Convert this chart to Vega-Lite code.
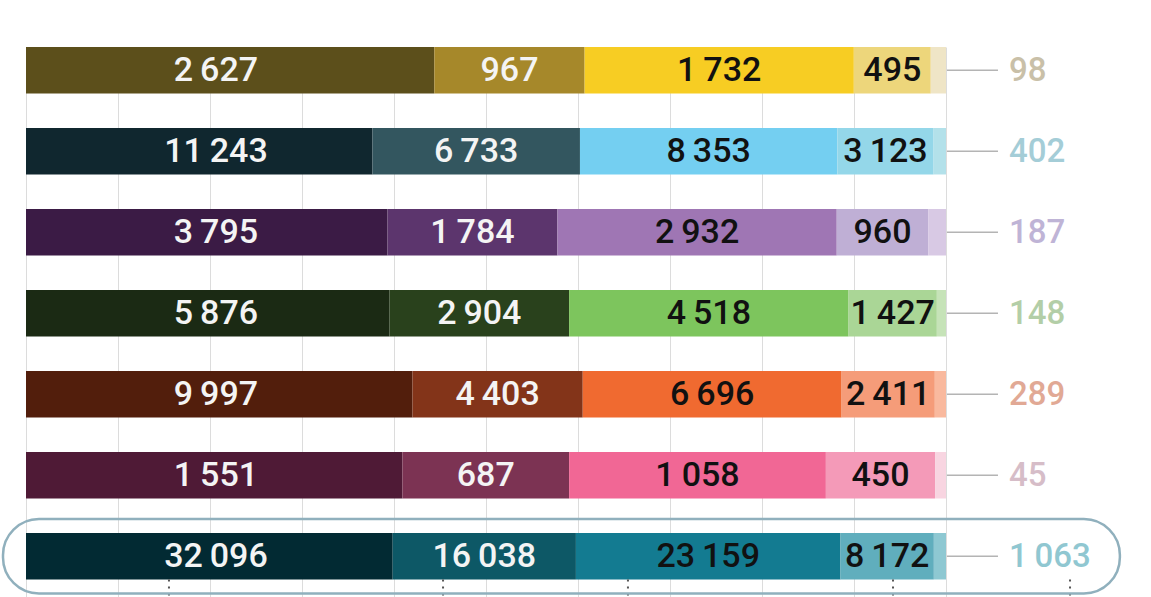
{
  "$schema": "https://vega.github.io/schema/vega-lite/v6.json",
  "width": 920,
  "height": 560,
  "autosize": "none",
  "padding": {"left": 26, "top": 47, "right": 205, "bottom": 0},
  "config": {
    "view": {"stroke": null},
    "locale": {"number": {"decimal": ",", "thousands": "\u2009", "grouping": [3], "currency": ["", ""]}},
    "text": {"font": "Roboto"}
  },
  "datasets": {
    "segs": [
      {"group": "g1", "seg": 1, "value": 2627, "cat": "g1s1"},
      {"group": "g1", "seg": 2, "value": 967, "cat": "g1s2"},
      {"group": "g1", "seg": 3, "value": 1732, "cat": "g1s3"},
      {"group": "g1", "seg": 4, "value": 495, "cat": "g1s4"},
      {"group": "g1", "seg": 5, "value": 98, "cat": "g1s5"},
      {"group": "g2", "seg": 1, "value": 11243, "cat": "g2s1"},
      {"group": "g2", "seg": 2, "value": 6733, "cat": "g2s2"},
      {"group": "g2", "seg": 3, "value": 8353, "cat": "g2s3"},
      {"group": "g2", "seg": 4, "value": 3123, "cat": "g2s4"},
      {"group": "g2", "seg": 5, "value": 402, "cat": "g2s5"},
      {"group": "g3", "seg": 1, "value": 3795, "cat": "g3s1"},
      {"group": "g3", "seg": 2, "value": 1784, "cat": "g3s2"},
      {"group": "g3", "seg": 3, "value": 2932, "cat": "g3s3"},
      {"group": "g3", "seg": 4, "value": 960, "cat": "g3s4"},
      {"group": "g3", "seg": 5, "value": 187, "cat": "g3s5"},
      {"group": "g4", "seg": 1, "value": 5876, "cat": "g4s1"},
      {"group": "g4", "seg": 2, "value": 2904, "cat": "g4s2"},
      {"group": "g4", "seg": 3, "value": 4518, "cat": "g4s3"},
      {"group": "g4", "seg": 4, "value": 1427, "cat": "g4s4"},
      {"group": "g4", "seg": 5, "value": 148, "cat": "g4s5"},
      {"group": "g5", "seg": 1, "value": 9997, "cat": "g5s1"},
      {"group": "g5", "seg": 2, "value": 4403, "cat": "g5s2"},
      {"group": "g5", "seg": 3, "value": 6696, "cat": "g5s3"},
      {"group": "g5", "seg": 4, "value": 2411, "cat": "g5s4"},
      {"group": "g5", "seg": 5, "value": 289, "cat": "g5s5"},
      {"group": "g6", "seg": 1, "value": 1551, "cat": "g6s1"},
      {"group": "g6", "seg": 2, "value": 687, "cat": "g6s2"},
      {"group": "g6", "seg": 3, "value": 1058, "cat": "g6s3"},
      {"group": "g6", "seg": 4, "value": 450, "cat": "g6s4"},
      {"group": "g6", "seg": 5, "value": 45, "cat": "g6s5"},
      {"group": "g7", "seg": 1, "value": 32096, "cat": "g7s1"},
      {"group": "g7", "seg": 2, "value": 16038, "cat": "g7s2"},
      {"group": "g7", "seg": 3, "value": 23159, "cat": "g7s3"},
      {"group": "g7", "seg": 4, "value": 8172, "cat": "g7s4"},
      {"group": "g7", "seg": 5, "value": 1063, "cat": "g7s5"}
    ],
    "dots": [
      {"pos": 0.1554},
      {"pos": 0.4533},
      {"pos": 0.6543},
      {"pos": 0.9424},
      {"pos": 1.1348}
    ]
  },
  "data": {"name": "segs"},
  "encoding": {
    "y": {
      "field": "group",
      "type": "nominal",
      "sort": null,
      "axis": null,
      "scale": {"paddingInner": 0.426, "paddingOuter": 0.1698, "align": 0}
    }
  },
  "layer": [
    {
      "mark": {"type": "bar"},
      "encoding": {
        "x": {
          "field": "value",
          "type": "quantitative",
          "stack": "normalize",
          "scale": {"domain": [0, 1], "nice": false},
          "axis": {
            "grid": true,
            "labels": false,
            "ticks": false,
            "domain": false,
            "title": null,
            "values": [0, 0.1, 0.2, 0.3, 0.4, 0.5, 0.6, 0.7, 0.8, 0.9, 1],
            "gridColor": "#dcdcdc",
            "gridWidth": 1
          }
        },
        "order": {"field": "seg", "type": "quantitative"},
        "color": {
          "field": "cat",
          "type": "nominal",
          "legend": null,
          "scale": {
            "domain": ["g1s1","g1s2","g1s3","g1s4","g1s5","g2s1","g2s2","g2s3","g2s4","g2s5","g3s1","g3s2","g3s3","g3s4","g3s5","g4s1","g4s2","g4s3","g4s4","g4s5","g5s1","g5s2","g5s3","g5s4","g5s5","g6s1","g6s2","g6s3","g6s4","g6s5","g7s1","g7s2","g7s3","g7s4","g7s5"],
            "range": ["#5c4f1b","#a6882a","#f7cd23","#edd67b","#efe5c6","#10272f","#33565f","#74cff1","#94d7e9","#b3e1ea","#3b1b45","#5c356d","#9f76b4","#bfafd5","#d8c9e4","#1b2a14","#29411c","#7dc55d","#aad696","#c6e3b8","#521e0c","#833419","#f06a30","#f59c79","#f9b99e","#4f1a36","#7c3353","#f16795","#f49ab8","#f8d5e1","#022a33","#0d5866","#137b91","#60aebd","#8ec8d2"]
          }
        }
      }
    },
    {
      "mark": {"type": "text", "fontSize": 34, "fontWeight": 500, "baseline": "middle", "align": "center", "dy": 1},
      "encoding": {
        "x": {"field": "value", "type": "quantitative", "stack": "normalize", "bandPosition": 0.5},
        "detail": {"field": "seg", "type": "nominal"},
        "order": {"field": "seg", "type": "quantitative"},
        "text": {
          "condition": {"test": "datum.seg == 1 || datum.seg == 5", "value": ""},
          "field": "value",
          "type": "quantitative",
          "format": ",d"
        },
        "color": {
          "condition": {"test": "datum.seg <= 2", "value": "#f4f4f4"},
          "value": "#111111"
        }
      }
    },
    {
      "transform": [{"filter": "datum.seg == 1"}],
      "mark": {"type": "text", "fontSize": 34, "fontWeight": 500, "baseline": "middle", "align": "center", "dy": 1, "color": "#f4f4f4"},
      "encoding": {
        "x": {"datum": 0.2065, "type": "quantitative"},
        "text": {"field": "value", "type": "quantitative", "format": ",d"}
      }
    },
    {
      "transform": [{"filter": "datum.seg == 5"}],
      "mark": {"type": "rule", "color": "#b4b4b4", "strokeWidth": 1.5},
      "encoding": {
        "x": {"datum": 1.001, "type": "quantitative"},
        "x2": {"datum": 1.0565}
      }
    },
    {
      "transform": [{"filter": "datum.seg == 5"}],
      "mark": {"type": "text", "fontSize": 33, "fontWeight": 500, "baseline": "middle", "align": "left", "dy": 1},
      "encoding": {
        "x": {"datum": 1.0685, "type": "quantitative"},
        "text": {"field": "value", "type": "quantitative", "format": ",d"},
        "color": {
          "field": "group",
          "type": "nominal",
          "legend": null,
          "scale": {
            "domain": ["g1","g2","g3","g4","g5","g6","g7"],
            "range": ["#c9c0a8","#a4cdd7","#bfb4d6","#b3cea7","#e1a995","#d6bdc8","#90c7d1"]
          }
        }
      }
    },
    {
      "data": {"name": "dots"},
      "mark": {"type": "rule", "color": "#555555", "strokeWidth": 2, "strokeDash": [2, 5]},
      "encoding": {
        "x": {"field": "pos", "type": "quantitative"},
        "y": {"datum": "g7", "bandPosition": 1},
        "y2": {"value": 560}
      }
    },
    {
      "data": {"values": [{"group": "g7"}]},
      "mark": {"type": "rect", "height": {"band": 1.6}, "cornerRadius": 36, "fill": null, "fillOpacity": 0, "stroke": "#90b0bd", "strokeWidth": 2.5},
      "encoding": {
        "x": {"datum": -0.025, "type": "quantitative"},
        "x2": {"datum": 1.189}
      }
    }
  ],
  "resolve": {"scale": {"color": "independent"}}
}
